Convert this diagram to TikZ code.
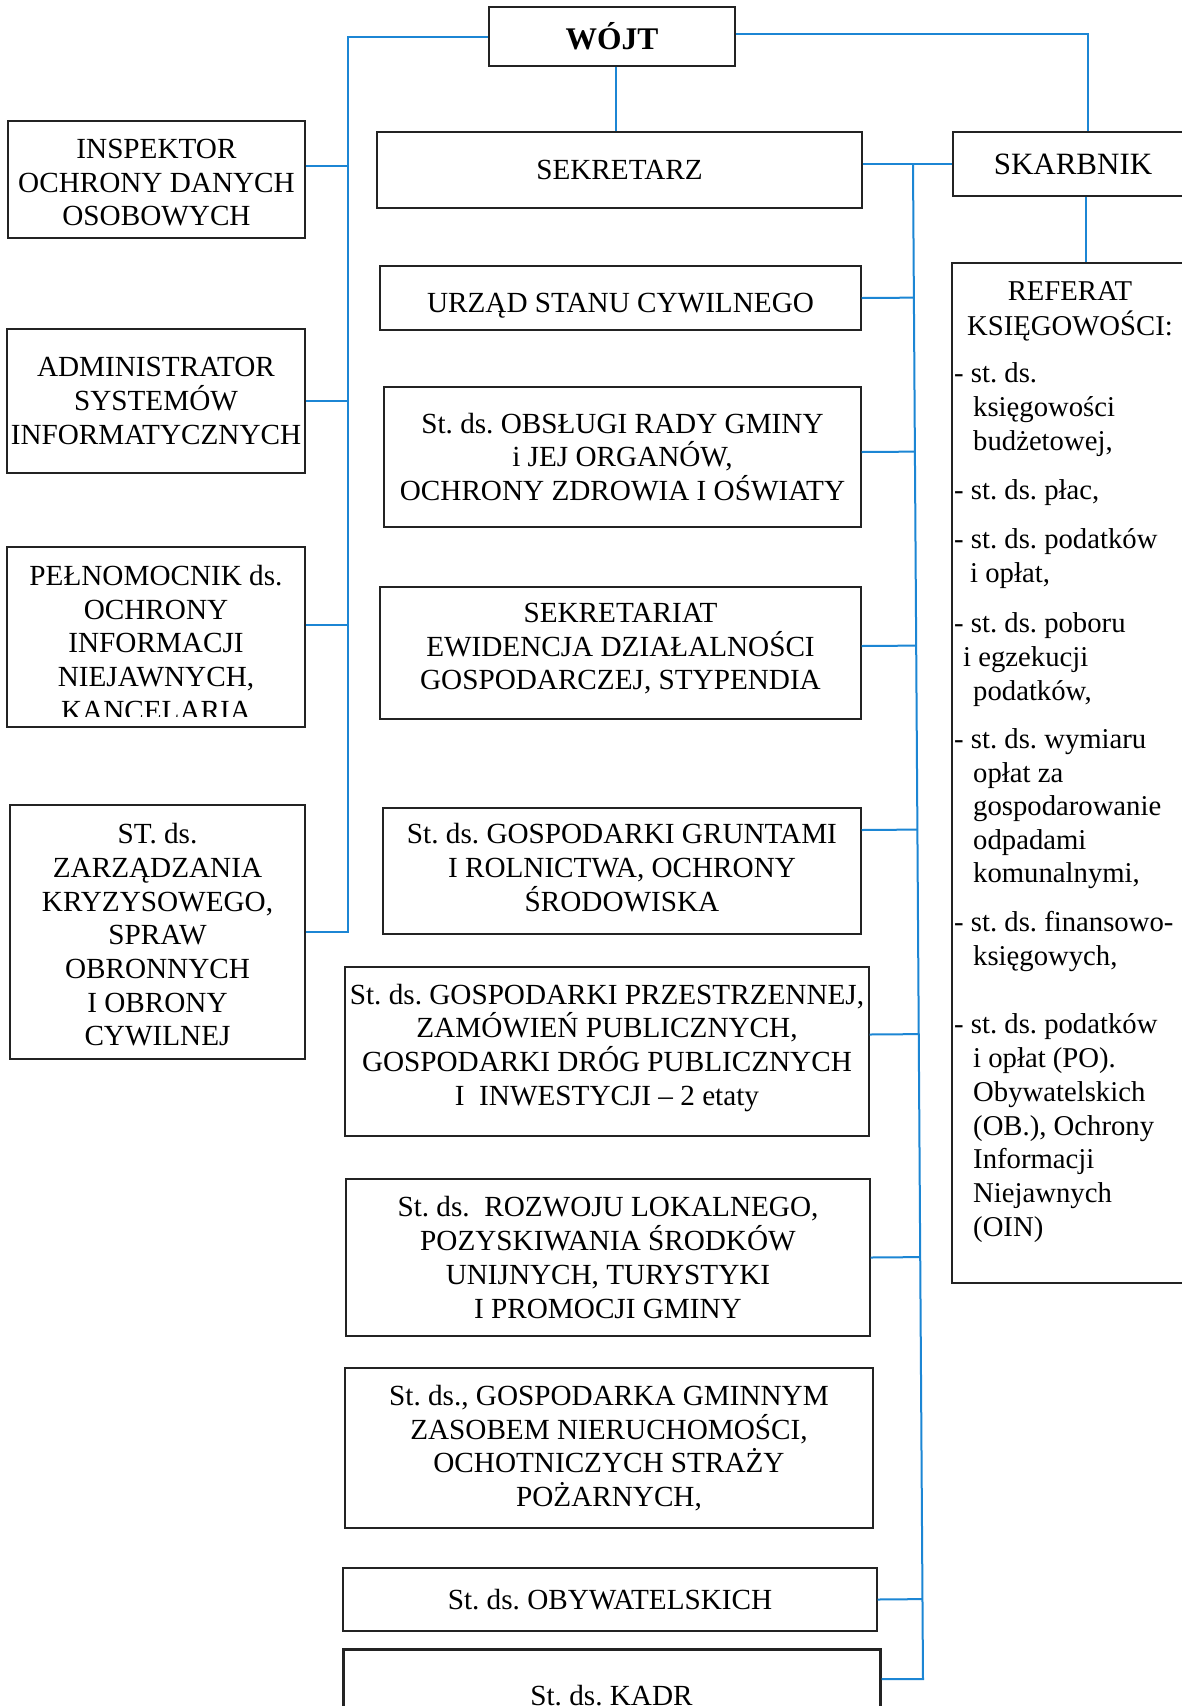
\documentclass[tikz,border=0pt]{standalone}
\usepackage{fontspec}
\setmainfont{Liberation Serif}
\usetikzlibrary{calc}

\definecolor{linkblue}{RGB}{28,134,212}
\definecolor{frame}{RGB}{35,35,35}
\newcommand\orgfont{\fontsize{29.2}{33.7}\selectfont\frenchspacing}
\newcommand\listfont{\fontsize{28.7}{33.7}\selectfont\frenchspacing}
% invisible struts that push a box's text down (tall first line) or up (deep last line)
\newcommand\strutdown[1]{\rule{0pt}{#1}}
\newcommand\strutup[1]{\rule[-#1]{0pt}{#1}}

% connector from a box's right side to the left bus
\newcommand\llink[2]{%
  \coordinate (#1L) at ([yshift=#2]#1.east);
  \draw[bus] (#1L) -- ($(lbusa)!(#1L)!(lbusb)$);}
% connector from a box's right side to the right bus
\newcommand\rlink[2]{%
  \coordinate (#1R) at ([yshift=#2]#1.east);
  \draw[bus] (#1R) -- ($(rtop)!(#1R)!(rbot)$);}

\begin{document}
\begin{tikzpicture}[x=1pt,y=-1pt,
  orgbox/.style={draw=frame, line width=1.4pt, inner sep=0pt, align=center, font=\orgfont},
  bus/.style={draw=linkblue, line width=2pt},
  listline/.style={anchor=base west, inner sep=0pt, font=\listfont},
]
\useasboundingbox (0,0) rectangle (1182,1706);
\fill[white] (0,0) rectangle (1182,1706);
\clip (0,0) rectangle (1182,1706);

% head of the office
\node[orgbox, minimum width=246pt, minimum height=59pt,
      font=\fontsize{31.5}{36}\selectfont\bfseries] (wojt) at (612,36.5) {WÓJT};

% left column
\node[orgbox, minimum width=297pt, minimum height=117pt] (insp) at (156.5,179.5)
  {\strutdown{25.5pt}INSPEKTOR\\OCHRONY DANYCH\\OSOBOWYCH};
\node[orgbox, minimum width=298pt, minimum height=144pt] (admin) at (156,401)
  {ADMINISTRATOR\\SYSTEMÓW\\INFORMATYCZNYCH};
\node[orgbox, minimum width=298pt, minimum height=180pt] (peln) at (156,637) {};
\coordinate (pelncut) at (305,716);
\begin{scope}
  \clip (peln.north west) rectangle (pelncut);
  \node[inner sep=0pt, align=center, font=\orgfont] (pelntext) at (156,643)
    {PEŁNOMOCNIK ds.\\OCHRONY\\INFORMACJI\\NIEJAWNYCH,\\KANCELARIA};
\end{scope}
\node[orgbox, minimum width=295pt, minimum height=254pt] (zarz) at (157.5,932)
  {\strutdown{26pt}ST. ds.\\ZARZĄDZANIA\\KRYZYSOWEGO,\\SPRAW\\OBRONNYCH\\I OBRONY\\CYWILNEJ};

% middle column
\node[orgbox, minimum width=485pt, minimum height=76pt] (sekretarz) at (619.5,170) {SEKRETARZ};
\node[orgbox, minimum width=481pt, minimum height=64pt] (urzad) at (620.5,298)
  {\strutdown{34pt}URZĄD STANU CYWILNEGO};
\node[orgbox, minimum width=477pt, minimum height=140pt] (obsl) at (622.5,457)
  {St. ds. OBSŁUGI RADY GMINY\\i JEJ ORGANÓW,\\OCHRONY ZDROWIA I OŚWIATY};
\node[orgbox, minimum width=481pt, minimum height=132pt] (sekretariat) at (620.5,653)
  {SEKRETARIAT\\EWIDENCJA DZIAŁALNOŚCI\\GOSPODARCZEJ, STYPENDIA\strutup{13pt}};
\node[orgbox, minimum width=478pt, minimum height=126pt] (grunt) at (622,871)
  {St. ds. GOSPODARKI GRUNTAMI\\I ROLNICTWA, OCHRONY\\ŚRODOWISKA\strutup{7pt}};
\node[orgbox, minimum width=524pt, minimum height=169pt] (przestrz) at (607,1051.5)
  {St. ds. GOSPODARKI PRZESTRZENNEJ,\\ZAMÓWIEŃ PUBLICZNYCH,\\GOSPODARKI DRÓG PUBLICZNYCH\\I\ \ INWESTYCJI – 2 etaty\strutup{14pt}};
\node[orgbox, minimum width=524pt, minimum height=157pt] (rozwoj) at (608,1257.5)
  {St. ds.\ \ ROZWOJU LOKALNEGO,\\POZYSKIWANIA ŚRODKÓW\\UNIJNYCH, TURYSTYKI\\I PROMOCJI GMINY};
\node[orgbox, minimum width=528pt, minimum height=160pt] (gosp) at (609,1448)
  {St. ds., GOSPODARKA GMINNYM\\ZASOBEM NIERUCHOMOŚCI,\\OCHOTNICZYCH STRAŻY\\POŻARNYCH,};
\node[orgbox, minimum width=534pt, minimum height=63pt] (obyw) at (610,1599.5)
  {St. ds. OBYWATELSKICH};
\node[orgbox, line width=3pt, minimum width=537pt, minimum height=94pt] (kadr) at (611.5,1696)
  {St. ds. KADR};

% treasurer and accounting department
\node[orgbox, minimum width=240pt, minimum height=64pt,
      font=\fontsize{31}{36}\selectfont] (skarbnik) at (1073,164) {SKARBNIK};
\node[orgbox, minimum width=236pt, minimum height=1020pt] (referat) at (1070,773) {};
\node[inner sep=0pt, anchor=base, font=\listfont] (refhead) at (1070,300) {REFERAT};
\node[inner sep=0pt, anchor=base, font=\listfont] (refhead2) at (1070,335) {KSIĘGOWOŚCI:};
\foreach \x/\y/\t [count=\i] in {
    954/382/{- st. ds.}, 973/416/{księgowości}, 973/450/{budżetowej,},
    954/499/{- st. ds. płac,},
    954/548/{- st. ds. podatków}, 970/582/{i opłat,},
    954/632/{- st. ds. poboru}, 963/666/{i egzekucji}, 973/700/{podatków,},
    954/748/{- st. ds. wymiaru}, 973/782/{opłat za}, 973/815/{gospodarowanie},
    973/849/{odpadami}, 973/882/{komunalnymi,},
    954/931/{- st. ds. finansowo-}, 973/965/{księgowych,},
    954/1033/{- st. ds. podatków}, 973/1067/{i opłat (PO).}, 973/1101/{Obywatelskich},
    973/1135/{(OB.), Ochrony}, 973/1168/{Informacji}, 973/1202/{Niejawnych},
    973/1236/{(OIN)}}
  \node[listline] (refline\i) at (\x,\y) {\t};

% bus lines
\coordinate (lbusa) at (348,0);
\coordinate (lbusb) at (348,1000);
\coordinate (rtop) at (913,164);
\coordinate (rbot) at (923,1679);

% left bus from the head down to the last left box
\draw[bus] (wojt.west) -- ($(lbusa)!(wojt.west)!(lbusb)$)
  -- ($(lbusa)!(zarz.east)!(lbusb)$) -- (zarz.east);
\llink{insp}{13.5pt}
\llink{admin}{0pt}
\llink{peln}{12pt}

% head to secretary and treasurer
\coordinate (wojtfoot) at ([xshift=4pt]wojt.south);
\draw[bus] (wojtfoot) -- (wojtfoot |- sekretarz.north);
\draw[bus] ([yshift=3pt]wojt.east) -| ([xshift=15pt]skarbnik.north);
\coordinate (skarbfoot) at ([xshift=13pt]skarbnik.south);
\draw[bus] (skarbfoot) -- (skarbfoot |- referat.north);

% secretary to treasurer, right bus and its branches
\draw[bus] (sekretarz.east |- skarbnik.west) -- (skarbnik.west);
\draw[bus] (rtop) -- (rbot) -- ([yshift=17pt]kadr.east);
\rlink{urzad}{0pt}
\rlink{obsl}{5pt}
\rlink{sekretariat}{7pt}
\rlink{grunt}{41pt}
\rlink{przestrz}{17pt}
\rlink{rozwoj}{0pt}
\rlink{obyw}{0pt}
\end{tikzpicture}
\end{document}
